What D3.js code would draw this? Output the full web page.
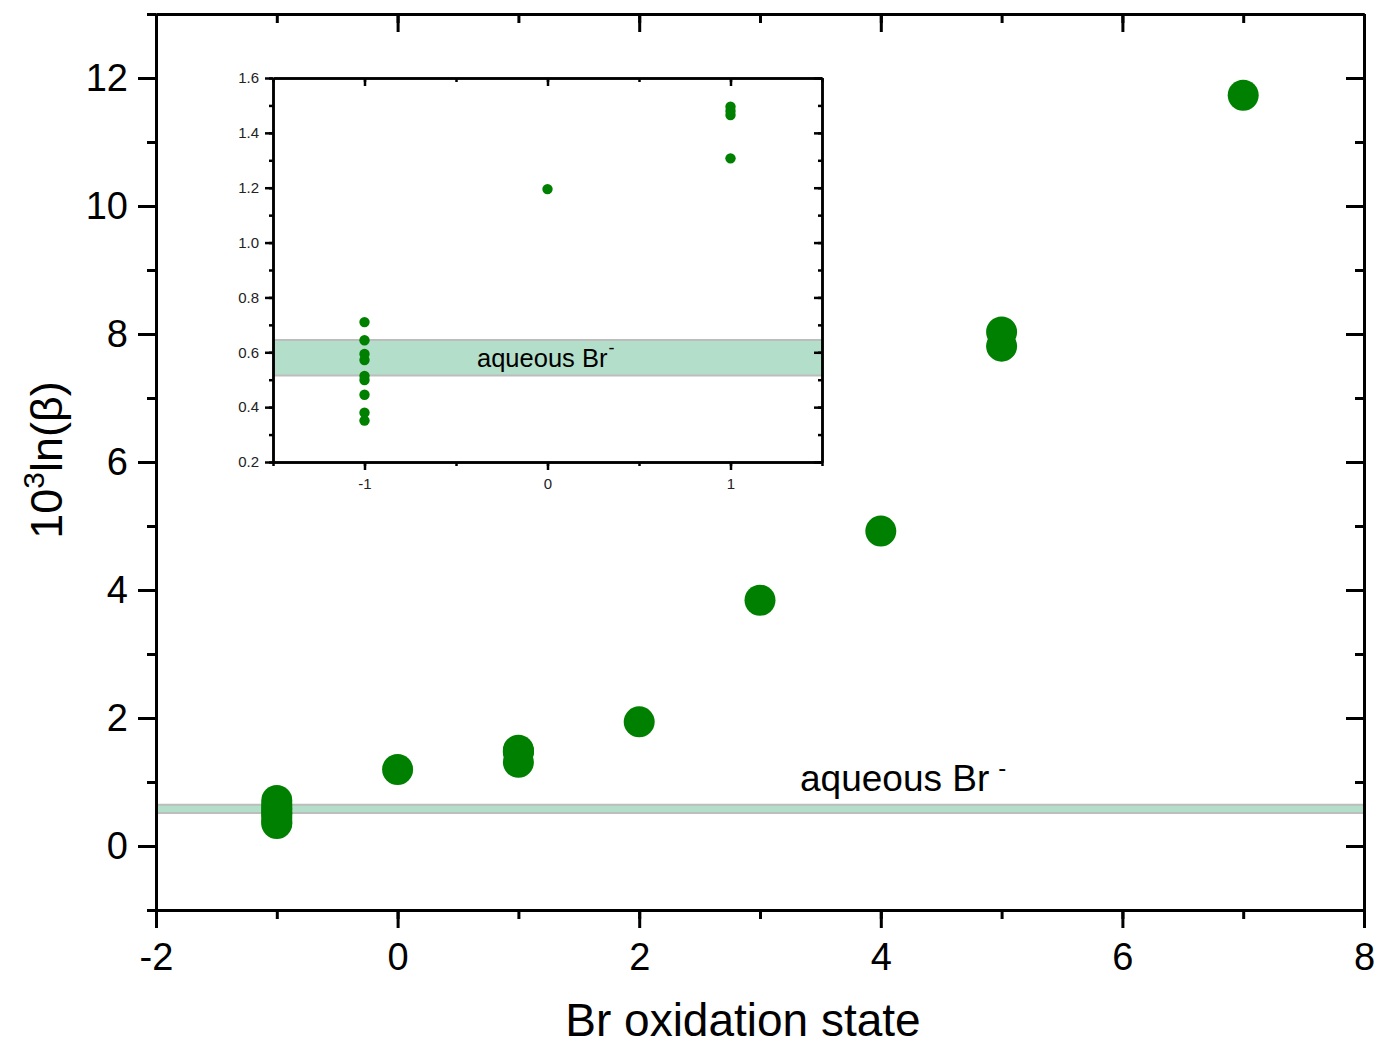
<!DOCTYPE html>
<html>
<head>
<meta charset="utf-8">
<script src="https://cdn.jsdelivr.net/npm/d3@7"></script>
<style>
  html, body { margin: 0; padding: 0; background: #fff; }
  svg { display: block; font-family: "Liberation Sans", Arial, sans-serif; }
</style>
</head>
<body>
<svg id="chart" width="1380" height="1048"></svg>
<script>
// ---------- data ----------
const oxidationState = [-1, -1, -1, -1, -1, -1, -1, -1, -1, 0, 1, 1, 1, 1, 2, 3, 4, 5, 5, 7];
const lnBeta1000    = [0.710, 0.644, 0.594, 0.572, 0.514, 0.499, 0.445, 0.380, 0.351,
                       1.195, 1.307, 1.465, 1.480, 1.495, 1.94, 3.84, 4.92, 8.03, 7.81, 11.73];
const aqueousBand = [0.515, 0.645];   // aqueous Br- range
const mainXTicks = [-2, 0, 2, 4, 6, 8];
const mainYTicks = [0, 2, 4, 6, 8, 10, 12];
const insetXTicks = [-1, 0, 1];
const insetYTicks = [0.2, 0.4, 0.6, 0.8, 1.0, 1.2, 1.4, 1.6];
const bandLabel = "aqueous Br";
const xTitle = "Br oxidation state";

const points = oxidationState.map((x, i) => ({x, y: lnBeta1000[i]}));

const svg = d3.select("#chart");
const green = "#008000";
const bandFill = "#b3dfca";
const bandEdge = "#bdbdbd";
const hy = f => (d => f(d).replace("\u2212", "-"));

// ---------- main scales ----------
const x = d3.scaleLinear().domain([-2, 8]).range([156, 1364]);
const y = d3.scaleLinear().domain([-1, 13]).range([910, 14]);

function styleAxis(g, w) {
  g.selectAll("path.domain").attr("stroke", "#000").attr("stroke-width", w);
  g.selectAll(".tick line").attr("stroke", "#000").attr("stroke-width", w);
}

// band
const band = svg.append("g");
band.append("rect")
  .attr("x", x.range()[0]).attr("width", x.range()[1] - x.range()[0])
  .attr("y", y(aqueousBand[1])).attr("height", y(aqueousBand[0]) - y(aqueousBand[1]))
  .attr("fill", bandFill);
aqueousBand.forEach(v => band.append("line")
  .attr("x1", x.range()[0]).attr("x2", x.range()[1])
  .attr("y1", y(v)).attr("y2", y(v))
  .attr("stroke", bandEdge).attr("stroke-width", 2));

const lbl = svg.append("text")
  .attr("x", 800).attr("y", 791)
  .attr("font-size", 37).attr("fill", "#000")
  .text(bandLabel);
lbl.append("tspan").attr("dx", 9).attr("dy", -15).attr("font-size", 24).text("-");

// main axes
const minorX = d3.range(-2, 8.01, 1);
const minorY = d3.range(-1, 13.01, 1);

// minor ticks
svg.append("g").attr("transform", `translate(0,${y.range()[0]})`)
  .call(d3.axisBottom(x).tickValues(minorX).tickSize(9).tickSizeOuter(0).tickFormat(""))
  .call(g => styleAxis(g, 3));
svg.append("g").attr("transform", `translate(0,${y.range()[1]})`)
  .call(d3.axisTop(x).tickValues(minorX).tickSize(-9).tickSizeOuter(0).tickFormat(""))
  .call(g => styleAxis(g, 3));
svg.append("g").attr("transform", `translate(${x.range()[0]},0)`)
  .call(d3.axisLeft(y).tickValues(minorY).tickSize(9).tickSizeOuter(0).tickFormat(""))
  .call(g => styleAxis(g, 3));
svg.append("g").attr("transform", `translate(${x.range()[1]},0)`)
  .call(d3.axisRight(y).tickValues(minorY).tickSize(-9).tickSizeOuter(0).tickFormat(""))
  .call(g => styleAxis(g, 3));

// major ticks
const gxb = svg.append("g").attr("transform", `translate(0,${y.range()[0]})`)
  .call(d3.axisBottom(x).tickValues(mainXTicks).tickSize(18).tickSizeOuter(0).tickPadding(15).tickFormat(hy(d3.format("d"))))
  .call(g => styleAxis(g, 3));
svg.append("g").attr("transform", `translate(0,${y.range()[1]})`)
  .call(d3.axisTop(x).tickValues(mainXTicks).tickSize(-18).tickSizeOuter(0).tickFormat(""))
  .call(g => styleAxis(g, 3));
const gyl = svg.append("g").attr("transform", `translate(${x.range()[0]},0)`)
  .call(d3.axisLeft(y).tickValues(mainYTicks).tickSize(18).tickSizeOuter(0).tickPadding(10).tickFormat(hy(d3.format("d"))))
  .call(g => styleAxis(g, 3));
svg.append("g").attr("transform", `translate(${x.range()[1]},0)`)
  .call(d3.axisRight(y).tickValues(mainYTicks).tickSize(-18).tickSizeOuter(0).tickFormat(""))
  .call(g => styleAxis(g, 3));
[gxb, gyl].forEach(g => g.selectAll("text")
  .attr("font-size", 38).attr("fill", "#000")
  .attr("font-family", "'Liberation Sans', Arial, sans-serif"));

// titles
svg.append("text")
  .attr("x", 743).attr("y", 1036).attr("text-anchor", "middle")
  .attr("font-size", 46).attr("fill", "#000")
  .text(xTitle);
const yt = svg.append("text")
  .attr("transform", "translate(62,460) rotate(-90)")
  .attr("text-anchor", "middle").attr("font-size", 45).attr("fill", "#000");
yt.append("tspan").text("10");
yt.append("tspan").attr("dy", -18).attr("font-size", 30).text("3");
yt.append("tspan").attr("dy", 18).text("ln(β)");

// main dots
svg.append("g").selectAll("circle").data(points).join("circle")
  .attr("cx", d => x(d.x)).attr("cy", d => y(d.y)).attr("r", 15.5)
  .attr("fill", green);

// ---------- inset ----------
const xi = d3.scaleLinear().domain([-1.5, 1.5]).range([273, 822]);
const yi = d3.scaleLinear().domain([0.2, 1.6]).range([462, 78]);
const inset = svg.append("g");

inset.append("rect")
  .attr("x", xi.range()[0]).attr("width", xi.range()[1] - xi.range()[0])
  .attr("y", yi(aqueousBand[1])).attr("height", yi(aqueousBand[0]) - yi(aqueousBand[1]))
  .attr("fill", bandFill);
aqueousBand.forEach(v => inset.append("line")
  .attr("x1", xi.range()[0]).attr("x2", xi.range()[1])
  .attr("y1", yi(v)).attr("y2", yi(v))
  .attr("stroke", bandEdge).attr("stroke-width", 2));

const il = inset.append("text")
  .attr("x", 477).attr("y", 367)
  .attr("font-size", 25.5).attr("fill", "#000")
  .text(bandLabel);
il.append("tspan").attr("dx", 1).attr("dy", -13).attr("font-size", 18).text("-");

const minorXi = d3.range(-1.5, 1.51, 0.5);
const minorYi = d3.range(0.2, 1.601, 0.1).map(v => +v.toFixed(2));

inset.append("g").attr("transform", `translate(0,${yi.range()[0]})`)
  .call(d3.axisBottom(xi).tickValues(minorXi).tickSize(4).tickSizeOuter(0).tickFormat(""))
  .call(g => styleAxis(g, 2.5));
inset.append("g").attr("transform", `translate(0,${yi.range()[1]})`)
  .call(d3.axisTop(xi).tickValues(minorXi).tickSize(-4).tickSizeOuter(0).tickFormat(""))
  .call(g => styleAxis(g, 2.5));
inset.append("g").attr("transform", `translate(${xi.range()[0]},0)`)
  .call(d3.axisLeft(yi).tickValues(minorYi).tickSize(4).tickSizeOuter(0).tickFormat(""))
  .call(g => styleAxis(g, 2.5));
inset.append("g").attr("transform", `translate(${xi.range()[1]},0)`)
  .call(d3.axisRight(yi).tickValues(minorYi).tickSize(-4).tickSizeOuter(0).tickFormat(""))
  .call(g => styleAxis(g, 2.5));

const ixb = inset.append("g").attr("transform", `translate(0,${yi.range()[0]})`)
  .call(d3.axisBottom(xi).tickValues(insetXTicks).tickSize(8).tickSizeOuter(0).tickPadding(8).tickFormat(hy(d3.format("d"))))
  .call(g => styleAxis(g, 2.5));
inset.append("g").attr("transform", `translate(0,${yi.range()[1]})`)
  .call(d3.axisTop(xi).tickValues(insetXTicks).tickSize(-8).tickSizeOuter(0).tickFormat(""))
  .call(g => styleAxis(g, 2.5));
const iyl = inset.append("g").attr("transform", `translate(${xi.range()[0]},0)`)
  .call(d3.axisLeft(yi).tickValues(insetYTicks).tickSize(8).tickSizeOuter(0).tickPadding(6).tickFormat(d3.format(".1f")))
  .call(g => styleAxis(g, 2.5));
inset.append("g").attr("transform", `translate(${xi.range()[1]},0)`)
  .call(d3.axisRight(yi).tickValues(insetYTicks).tickSize(-8).tickSizeOuter(0).tickFormat(""))
  .call(g => styleAxis(g, 2.5));
[ixb, iyl].forEach(g => g.selectAll("text")
  .attr("font-size", 15).attr("fill", "#222")
  .attr("font-family", "'Liberation Sans', Arial, sans-serif"));

inset.append("g").selectAll("circle")
  .data(points.filter(d => d.x >= -1.5 && d.x <= 1.5 && d.y >= 0.2 && d.y <= 1.6))
  .join("circle")
  .attr("cx", d => xi(d.x)).attr("cy", d => yi(d.y)).attr("r", 5.2)
  .attr("fill", green);
</script>
</body>
</html>
